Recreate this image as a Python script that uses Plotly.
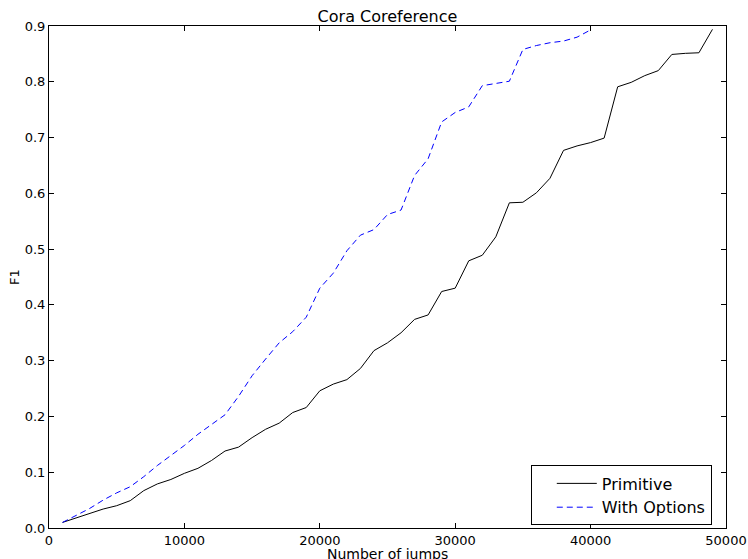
import plotly.graph_objects as go

jumps_primitive = [1000, 2000, 3000, 4000, 5000, 6000, 7000, 8000, 9000, 10000,
                   11000, 12000, 13000, 14000, 15000, 16000, 17000, 18000, 19000, 20000,
                   21000, 22000, 23000, 24000, 25000, 26000, 27000, 28000, 29000, 30000,
                   31000, 32000, 33000, 34000, 35000, 36000, 37000, 38000, 39000, 40000,
                   41000, 42000, 43000, 44000, 45000, 46000, 47000, 48000, 49000]
f1_primitive = [0.010, 0.018, 0.027, 0.034, 0.040, 0.049, 0.067, 0.079, 0.087, 0.098,
                0.107, 0.121, 0.138, 0.145, 0.162, 0.177, 0.188, 0.207, 0.216, 0.246,
                0.258, 0.266, 0.286, 0.318, 0.332, 0.350, 0.374, 0.382, 0.424, 0.430,
                0.479, 0.489, 0.522, 0.583, 0.584, 0.601, 0.627, 0.677, 0.685, 0.691,
                0.699, 0.791, 0.799, 0.811, 0.820, 0.849, 0.851, 0.852, 0.894]

jumps_options = [1000, 2000, 3000, 4000, 5000, 6000, 7000, 8000, 9000, 10000,
                 11000, 12000, 13000, 14000, 15000, 16000, 17000, 18000, 19000, 20000,
                 21000, 22000, 23000, 24000, 25000, 26000, 27000, 28000, 29000, 30000,
                 31000, 32000, 33000, 34000, 35000, 36000, 37000, 38000, 39000, 40000]
f1_options = [0.010, 0.022, 0.035, 0.050, 0.063, 0.074, 0.092, 0.112, 0.130, 0.148,
              0.168, 0.186, 0.203, 0.236, 0.273, 0.303, 0.332, 0.352, 0.378, 0.430,
              0.457, 0.497, 0.525, 0.535, 0.562, 0.570, 0.632, 0.662, 0.728, 0.745,
              0.755, 0.793, 0.797, 0.801, 0.858, 0.865, 0.870, 0.873, 0.880, 0.893]

x_ticks = [0, 10000, 20000, 30000, 40000, 50000]
y_ticks = [0.0, 0.1, 0.2, 0.3, 0.4, 0.5, 0.6, 0.7, 0.8, 0.9]

FONT = "DejaVu Sans"

fig = go.Figure()
fig.add_trace(go.Scatter(x=jumps_primitive, y=f1_primitive, mode="lines", name="Primitive",
                         line=dict(color="#000000", width=1)))
fig.add_trace(go.Scatter(x=jumps_options, y=f1_options, mode="lines", name="With Options",
                         line=dict(color="#0000ff", width=1, dash="6px,4px")))

axis_common = dict(showgrid=False, zeroline=False, showline=True, linecolor="black",
                   linewidth=1, mirror="allticks", ticks="inside", ticklen=5,
                   tickcolor="black", tickwidth=1, automargin=False,
                   tickfont=dict(family=FONT, size=13, color="black"))

W, H = 748, 559
fig.update_layout(
    width=W, height=H,
    margin=dict(l=49, r=22, t=26, b=31),
    paper_bgcolor="white", plot_bgcolor="white",
    font=dict(family=FONT, color="black"),
    title=dict(text="Cora Coreference", x=(49 + 677 / 2) / W, xanchor="center", y=1 - 16 / H,
               yanchor="middle", font=dict(family=FONT, size=16, color="black")),
    xaxis=dict(range=[0, 50000], tickvals=x_ticks, ticktext=[str(v) for v in x_ticks],
               **axis_common),
    yaxis=dict(range=[0, 0.9], tickvals=y_ticks, ticktext=["%.1f" % v for v in y_ticks],
               **axis_common),
    legend=dict(x=0.979, y=0.005, xanchor="right", yanchor="bottom",
                bgcolor="white", bordercolor="black", borderwidth=1,
                font=dict(family=FONT, size=16, color="black"),
                tracegroupgap=0, itemwidth=40, indentation=20),
    showlegend=True,
    annotations=[
        dict(text="Number of jumps", xref="paper", yref="paper", x=0.5, y=0,
             xanchor="center", yanchor="top", yshift=-16, showarrow=False,
             font=dict(family=FONT, size=14, color="black")),
        dict(text="F1", xref="paper", yref="paper", x=0, y=0.5, textangle=-90,
             xanchor="center", yanchor="middle", xshift=-35, showarrow=False,
             font=dict(family=FONT, size=13, color="black")),
    ],
)

fig.write_html("out.html",
               config={"displayModeBar": False},
               post_script="document.body.style.margin='0';"
                           "document.body.style.overflow='hidden';")
